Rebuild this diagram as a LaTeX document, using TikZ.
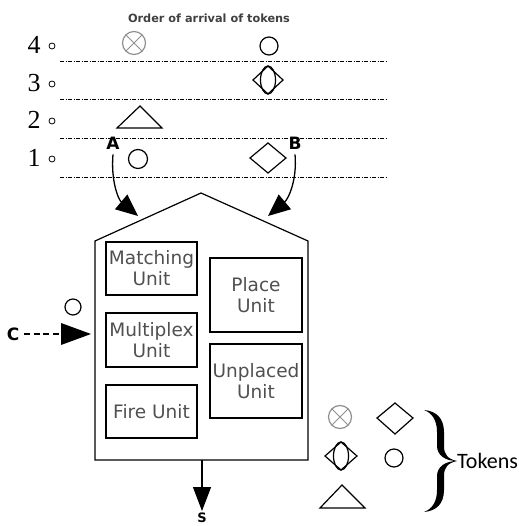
\documentclass[tikz,border=0pt]{standalone}
\usepackage{fontspec}
\setmainfont{Liberation Serif}
\newfontfamily\vfont{DejaVu Sans}
\newfontfamily\cfont{Carlito}
\usetikzlibrary{arrows.meta}
\definecolor{txtgray}{HTML}{505050}
\definecolor{tokgray}{HTML}{909090}
\tikzset{
  unitbox/.style={draw, line width=1.1pt, inner sep=0pt, font=\vfont\fontsize{18.5}{21}\selectfont, text=txtgray, align=center},
  rowlbl/.style={font=\fontsize{26}{26}\selectfont, inner sep=0pt},
  sep/.style={line width=0.9pt, dash pattern=on 4pt off 1.5pt on 1pt off 1.5pt},
  tok/.style={line width=1.2pt},
  bigtip/.style={-{Triangle[length=22pt,width=19pt]}, line width=1.3pt},
  lbl/.style={font=\vfont\bfseries\fontsize{17}{17}\selectfont, inner sep=0pt}
}
\begin{document}
\begin{tikzpicture}[x=1pt,y=-1pt]
\useasboundingbox (0,0) rectangle (518,526);
% title
\node[font=\vfont\bfseries\fontsize{11.3}{11.3}\selectfont, text=txtgray!80!black] (title) at (209,18) {Order of arrival of tokens};
% row labels
\foreach \n/\y in {4/45,3/83,2/120,1/158}{
  \node[rowlbl] (r\n) at (34,\y) {\n};
  \draw[line width=0.8pt] (52,\y+1) circle (3);
}
% separator lines
\foreach \y in {61,99,138,177}{
  \draw[sep] (60,\y) -- (387,\y);
}
% row 4
\draw[tok, draw=tokgray] (134,43) circle (11.5);
\draw[tok, draw=tokgray, line width=0.8pt] (134,43) ++(-8.1,-8.1) -- ++(16.2,16.2) (134,43) ++(8.1,-8.1) -- ++(-16.2,16.2);
\draw[tok] (269,46) circle (9);
% row 3
\draw[tok] (253,80) -- (268,66) -- (283,80) -- (268,94) -- cycle;
\draw[tok] (268,80) ellipse (7.5 and 14);
% row 2
\draw[tok] (117,128) -- (162,128) -- (140,106) -- cycle;
% row 1
\draw[tok] (138,159) circle (9.5);
\draw[tok] (250,158) -- (268,143) -- (286,158) -- (268,173) -- cycle;
% labels A B
\node[lbl] (A) at (113,143) {A};
\node[lbl] (B) at (295,143) {B};
% house
\coordinate (apex) at (201,193);
\coordinate (le) at (95,241);
\coordinate (re) at (308,241);
\coordinate (lb) at (95,460);
\coordinate (rb) at (308,460);
\coordinate (hb) at (202,460);
\draw[line width=1.2pt, line join=miter] (lb) -- (le) -- (apex) -- (re) -- (rb) -- cycle;
\coordinate (ra) at (138,216);
\coordinate (rbt) at (268,216);
% inner units
\node[unitbox, minimum width=91pt, minimum height=53pt] (match) at (151.5,268.5) {Matching\\Unit};
\node[unitbox, minimum width=91pt, minimum height=54pt] (mux) at (151.5,340) {Multiplex\\Unit};
\node[unitbox, minimum width=91pt, minimum height=53pt] (fire) at (151.5,411.5) {Fire Unit};
\node[unitbox, minimum width=92pt, minimum height=74pt] (place) at (256,295) {Place\\Unit};
\node[unitbox, minimum width=92pt, minimum height=74pt] (unpl) at (256,381) {Unplaced\\Unit};
% arrows A B
\draw[bigtip] (A.south) ++(0,5) coordinate (as) to[out=-95,in=140] (ra);
\draw[bigtip] (B.south) ++(0,5) coordinate (bs) to[out=-85,in=40] (rbt);
% C
\node[lbl] (C) at (13,334) {C};
\coordinate (cin) at (91,334);
\draw[line width=1.6pt, dash pattern=on 6pt off 3.5pt] (C.east) ++(5,0) -- (62,334);
\fill (61,323) -- (cin) -- (61,345) -- cycle;
\draw[tok] (73,307) circle (8);
% S
\node[lbl, font=\vfont\bfseries\fontsize{13}{13}\selectfont] (S) at (202,518) {S};
\draw[-{Triangle[length=24pt,width=18pt]}, line width=1.2pt] (hb) -- (202,511);
% tokens legend
\draw[tok, draw=tokgray] (340,417) circle (11.5);
\draw[tok, draw=tokgray, line width=0.8pt] (340,417) ++(-8.1,-8.1) -- ++(16.2,16.2) (340,417) ++(8.1,-8.1) -- ++(-16.2,16.2);
\draw[tok] (377,418) -- (395,403) -- (413,418) -- (395,434) -- cycle;
\draw[tok] (325,456) -- (341,442) -- (357,456) -- (341,470) -- cycle;
\draw[tok] (341,456) ellipse (7.5 and 14);
\draw[tok] (394,458) circle (9);
\draw[tok] (320,508) -- (365,508) -- (342,485) -- cycle;
% brace
\fill (424,410) .. controls (436,411) and (444,418) .. (444,432) -- (444,446)
  .. controls (444,455) and (448,459) .. (457,461)
  .. controls (445,461) and (437,455) .. (437,446) -- (437,432)
  .. controls (437,420) and (432,413) .. (424,410) -- cycle;
\fill (424,512) .. controls (436,511) and (444,504) .. (444,490) -- (444,476)
  .. controls (444,467) and (448,463) .. (457,461)
  .. controls (445,461) and (437,467) .. (437,476) -- (437,490)
  .. controls (437,502) and (432,509) .. (424,512) -- cycle;
\node[font=\cfont\fontsize{22}{22}\selectfont, anchor=west, inner sep=0pt] (tokens) at (457,461) {Tokens};
\end{tikzpicture}
\end{document}
